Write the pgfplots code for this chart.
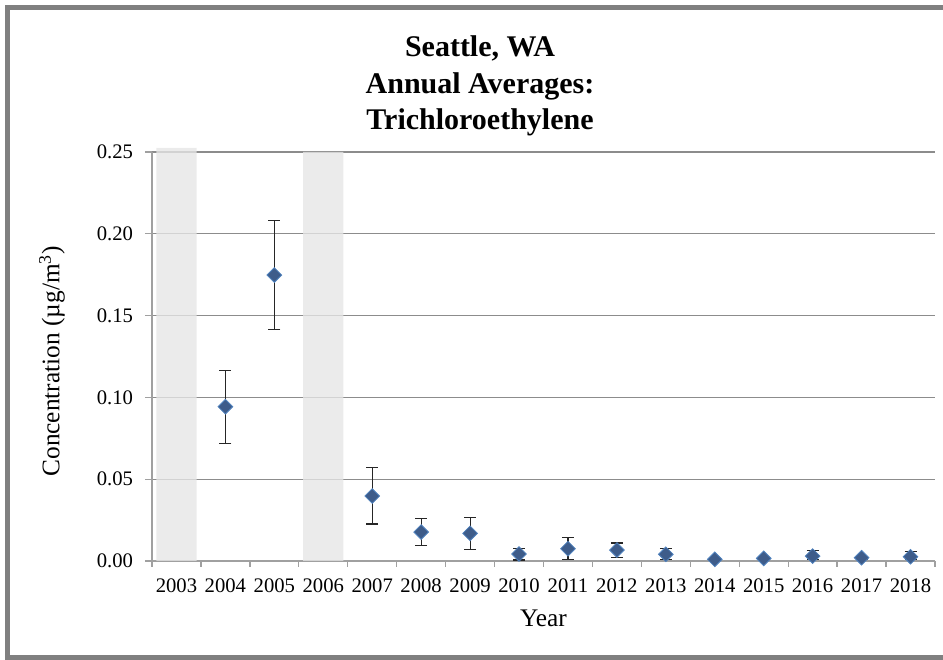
\documentclass[border=0pt]{standalone}
\usepackage{pgfplots}
\pgfplotsset{compat=1.18}
\usepackage{pgfplotstable}
\usepackage{fontspec}
\setmainfont{Liberation Serif}
\definecolor{framegray}{HTML}{808080}
\definecolor{gridgray}{HTML}{8C8C8C}
\definecolor{axisgray}{HTML}{A0A0A0}
\definecolor{bargray}{HTML}{E6E6E6}
\definecolor{markfill}{HTML}{3E5C8A}
\definecolor{markedge}{HTML}{4F81BD}

\pgfplotstableread{
x y ep em
1 0.0943 0.0224 0.0222
2 0.1748 0.0335 0.0332
4 0.0397 0.0176 0.0171
5 0.0177 0.0084 0.0085
6 0.0169 0.0098 0.0096
7 0.0043 0.0035 0.0037
8 0.0075 0.0067 0.0065
9 0.0067 0.0043 0.0047
10 0.0041 0.0037 0.0029
11 0.0010 0.0005 0.0005
12 0.0016 0.0008 0.0008
13 0.0030 0.0037 0.0020
14 0.0020 0.0008 0.0008
15 0.0026 0.0031 0.0018
}\datatable

\begin{document}
\begin{tikzpicture}
\useasboundingbox (0,0) rectangle (707.25pt,495pt);
\draw[line width=3.75pt, color=framegray] (5.625pt,1.875pt) rectangle (740pt,489.375pt);
\node[anchor=base, font=\fontsize{22.5}{27}\selectfont\bfseries] at (360pt,452.25pt) {Seattle, WA};
\node[anchor=base, font=\fontsize{22.5}{27}\selectfont\bfseries] at (360pt,424.5pt) {Annual Averages:};
\node[anchor=base, font=\fontsize{22.5}{27}\selectfont\bfseries] at (360pt,397.5pt) {Trichloroethylene};
\begin{axis}[
  at={(114pt,74.25pt)}, anchor=south west,
  scale only axis, width=587.25pt, height=306.75pt,
  xmin=-0.5, xmax=15.5, ymin=0, ymax=0.25,
  clip=false,
  axis x line*=bottom, axis y line*=left,
  axis line style={color=axisgray, line width=1pt},
  xtick={0,...,15},
  xticklabels={2003,2004,2005,2006,2007,2008,2009,2010,2011,2012,2013,2014,2015,2016,2017,2018},
  major x tick style={draw=none},
  minor xtick={-0.5,0.5,...,15.5},
  minor x tick style={color=axisgray, line width=1pt},
  minor tick length=4.5pt,
  ytick={0,0.05,0.10,0.15,0.20,0.25},
  y tick style={color=axisgray, line width=1pt},
  major tick length=5.25pt,
  tick align=outside,
  yticklabel style={xshift=-5.5pt, /pgf/number format/.cd, fixed, fixed zerofill, precision=2, assume math mode=true},
  xticklabel style={yshift=-4.5pt, /pgf/number format/assume math mode=true},
  tick label style={font=\fontsize{15.5}{18}\selectfont},
  ymajorgrids,
  major grid style={color=gridgray, line width=1pt},
  xlabel={Year},
  ylabel={Concentration (µg/m\textsuperscript{3})},
  label style={font=\fontsize{19}{22}\selectfont},
  xlabel style={at={(axis description cs:0.5,-0.161)}, anchor=base},
  ylabel style={at={(axis description cs:-0.1277,0.488)}, anchor=center, rotate=0},
]
\addplot[ybar, bar width=0.82, fill=bargray, draw=none, fill opacity=0.78] coordinates {(0,0.2525) (3,0.25)};
\addplot[only marks, mark=square*, mark size=3.9pt,
  mark options={rotate=45, fill=markfill, draw=markedge, line width=0.6pt},
  error bars/.cd, y dir=both, y explicit,
  error bar style={color=black!85, line width=0.8pt},
  error mark options={rotate=90, mark size=4.5pt, line width=0.8pt, color=black!85}]
  table[x=x, y=y, y error plus=ep, y error minus=em] {\datatable};
\end{axis}
\end{tikzpicture}
\end{document}
